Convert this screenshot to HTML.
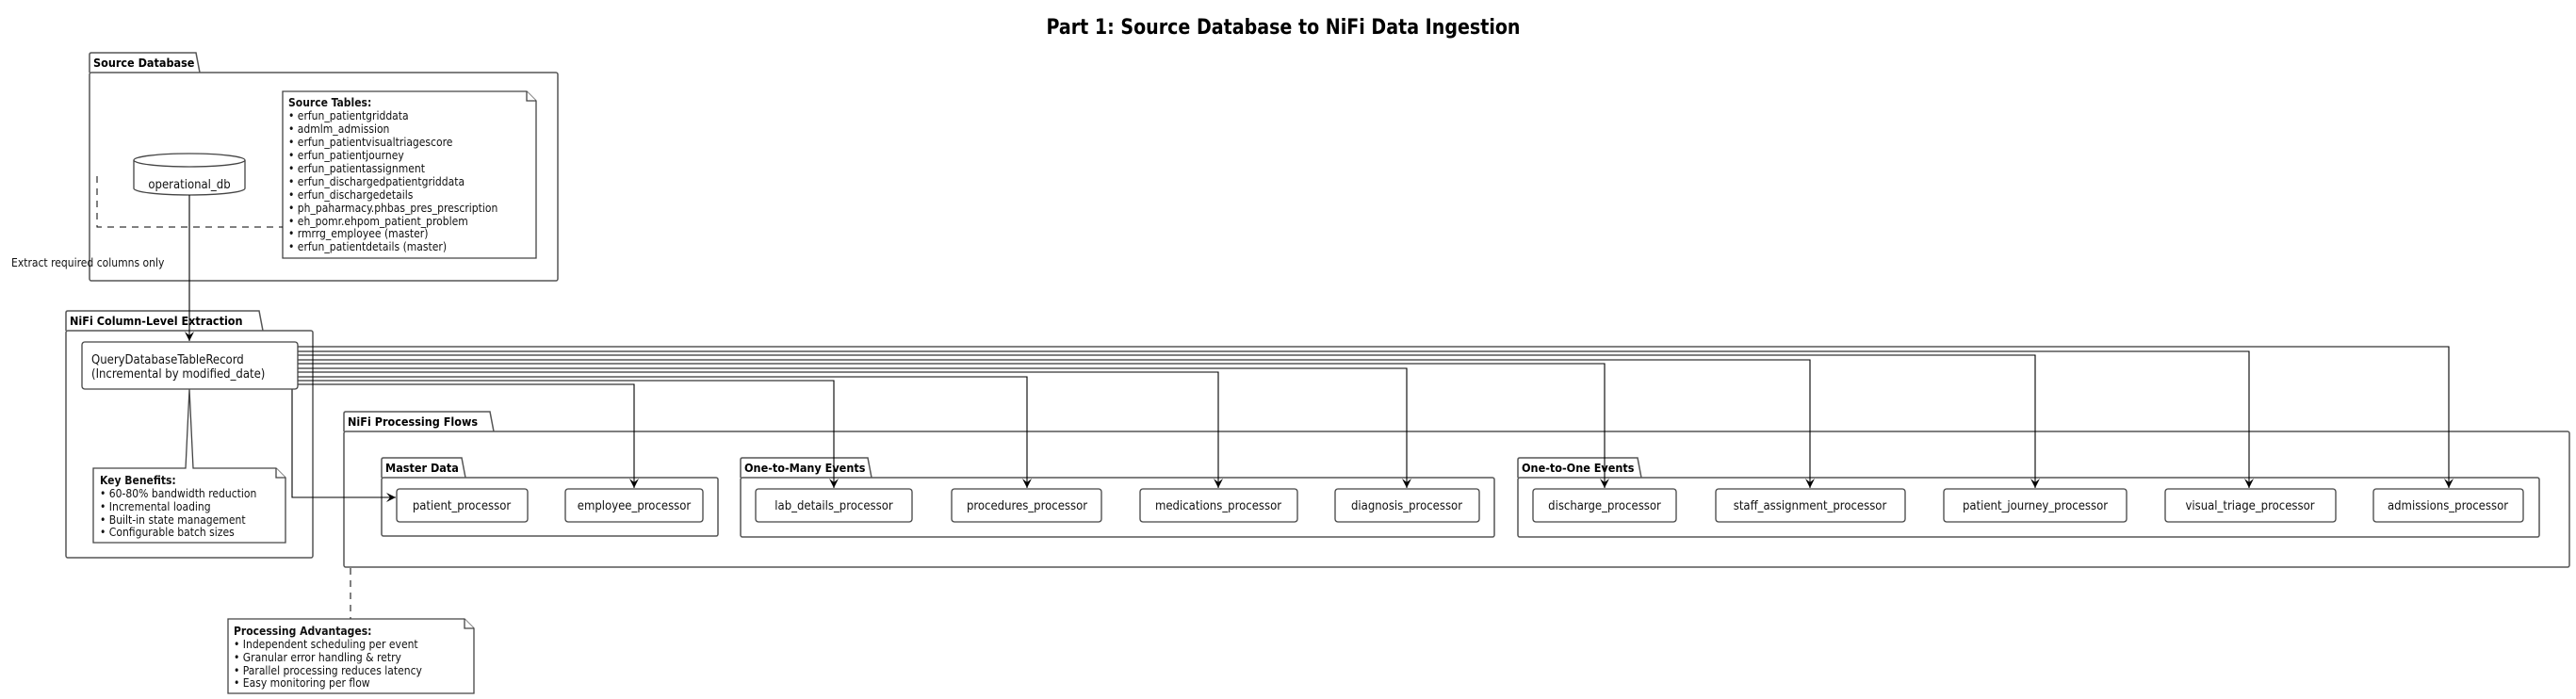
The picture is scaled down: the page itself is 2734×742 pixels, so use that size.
<!DOCTYPE html>
<html><head><meta charset="utf-8"><style>
html,body{margin:0;padding:0;background:#fff;}
svg{display:block;font-family:"DejaVu Sans Condensed","Liberation Sans",sans-serif;}
.pk{fill:#fff;stroke:#555;stroke-width:1.5;}
.nd{fill:#fff;stroke:#444;stroke-width:1.3;}
.ln{fill:none;stroke:#000;stroke-width:1.1;}
.t{font-size:13px;fill:#111;}
.tb{font-size:12.5px;font-weight:bold;fill:#000;}
.n{font-size:12px;fill:#111;}
</style></head><body>
<svg width="2734" height="742" viewBox="0 0 2734 742" xmlns="http://www.w3.org/2000/svg">
<defs><marker id="a" markerWidth="12" markerHeight="12" refX="10" refY="5" orient="auto" markerUnits="userSpaceOnUse"><path d="M0,0 L10,5 L0,10 L4,5 Z" fill="#000"/></marker></defs>
<text x="1362" y="36" text-anchor="middle" font-size="22" font-weight="bold" textLength="503" lengthAdjust="spacingAndGlyphs">Part 1: Source Database to NiFi Data Ingestion</text>

<!-- Source Database -->
<path class="pk" d="M95,77 L95,58 Q95,56 97,56 L208,56 L212,77"/>
<rect class="pk" x="95" y="77" width="497" height="221" rx="2"/>
<text class="tb" x="99" y="71">Source Database</text>
<path class="nd" d="M142,170 L142,200 A59,7 0 0 0 260,200 L260,170"/>
<ellipse class="nd" cx="201" cy="170" rx="59" ry="7"/>
<text class="t" x="201" y="200" text-anchor="middle">operational_db</text>
<path class="nd" d="M300,97 L559,97 L569,107 L569,274 L300,274 Z"/>
<path class="nd" d="M559,97 L559,107 L569,107"/>
<g class="n">
<text x="306" y="113" font-weight="bold">Source Tables:</text>
<text x="306" y="127">• erfun_patientgriddata</text>
<text x="306" y="141">• admlm_admission</text>
<text x="306" y="155">• erfun_patientvisualtriagescore</text>
<text x="306" y="169">• erfun_patientjourney</text>
<text x="306" y="183">• erfun_patientassignment</text>
<text x="306" y="197">• erfun_dischargedpatientgriddata</text>
<text x="306" y="211">• erfun_dischargedetails</text>
<text x="306" y="225">• ph_paharmacy.phbas_pres_prescription</text>
<text x="306" y="239">• eh_pomr.ehpom_patient_problem</text>
<text x="306" y="252">• rmrrg_employee (master)</text>
<text x="306" y="266">• erfun_patientdetails (master)</text>
</g>
<path d="M103,187 L103,241 L300,241" fill="none" stroke="#000" stroke-width="1" stroke-dasharray="7,6"/>

<text class="n" x="12" y="283">Extract required columns only</text>

<!-- NiFi Column-Level Extraction -->
<path class="pk" d="M70,351 L70,332 Q70,330 72,330 L275,330 L279,351"/>
<rect class="pk" x="70" y="351" width="262" height="241" rx="2"/>
<text class="tb" x="74" y="345">NiFi Column-Level Extraction</text>

<!-- NiFi Processing Flows -->
<path class="pk" d="M365,458 L365,439 Q365,437 367,437 L520,437 L524,458"/>
<rect class="pk" x="365" y="458" width="2362" height="144" rx="2"/>
<text class="tb" x="369" y="452">NiFi Processing Flows</text>

<!-- Master -->
<path class="pk" d="M405,507 L405,488 Q405,486 407,486 L490,486 L494,507"/>
<rect class="pk" x="405" y="507" width="357" height="62" rx="2"/>
<text class="tb" x="409" y="501">Master Data</text>
<!-- One to many -->
<path class="pk" d="M786,507 L786,488 Q786,486 788,486 L921,486 L925,507"/>
<rect class="pk" x="786" y="507" width="800" height="63" rx="2"/>
<text class="tb" x="790" y="501">One-to-Many Events</text>
<!-- One to one -->
<path class="pk" d="M1611,507 L1611,488 Q1611,486 1613,486 L1738,486 L1742,507"/>
<rect class="pk" x="1611" y="507" width="1084" height="63" rx="2"/>
<text class="tb" x="1615" y="501">One-to-One Events</text>

<!-- processors -->
<g class="t">
<rect class="nd" x="421" y="519" width="139" height="35" rx="3"/><text x="490" y="541" text-anchor="middle">patient_processor</text>
<rect class="nd" x="600" y="519" width="146" height="35" rx="3"/><text x="673" y="541" text-anchor="middle">employee_processor</text>
<rect class="nd" x="802" y="519" width="166" height="35" rx="3"/><text x="885" y="541" text-anchor="middle">lab_details_processor</text>
<rect class="nd" x="1010" y="519" width="159" height="35" rx="3"/><text x="1090" y="541" text-anchor="middle">procedures_processor</text>
<rect class="nd" x="1210" y="519" width="167" height="35" rx="3"/><text x="1293" y="541" text-anchor="middle">medications_processor</text>
<rect class="nd" x="1417" y="519" width="153" height="35" rx="3"/><text x="1493" y="541" text-anchor="middle">diagnosis_processor</text>
<rect class="nd" x="1627" y="519" width="152" height="35" rx="3"/><text x="1703" y="541" text-anchor="middle">discharge_processor</text>
<rect class="nd" x="1821" y="519" width="201" height="35" rx="3"/><text x="1921" y="541" text-anchor="middle">staff_assignment_processor</text>
<rect class="nd" x="2063" y="519" width="194" height="35" rx="3"/><text x="2160" y="541" text-anchor="middle">patient_journey_processor</text>
<rect class="nd" x="2298" y="519" width="181" height="35" rx="3"/><text x="2388" y="541" text-anchor="middle">visual_triage_processor</text>
<rect class="nd" x="2519" y="519" width="159" height="35" rx="3"/><text x="2598" y="541" text-anchor="middle">admissions_processor</text>
</g>

<!-- connectors -->
<path class="ln" d="M201,207 L201,362" marker-end="url(#a)"/>
<path class="ln" d="M316,368 L2599,368 L2599,518" marker-end="url(#a)"/>
<path class="ln" d="M316,373 L2387,373 L2387,518" marker-end="url(#a)"/>
<path class="ln" d="M316,377 L2160,377 L2160,518" marker-end="url(#a)"/>
<path class="ln" d="M316,382 L1921,382 L1921,518" marker-end="url(#a)"/>
<path class="ln" d="M316,386 L1703,386 L1703,518" marker-end="url(#a)"/>
<path class="ln" d="M316,391 L1493,391 L1493,518" marker-end="url(#a)"/>
<path class="ln" d="M316,395 L1293,395 L1293,518" marker-end="url(#a)"/>
<path class="ln" d="M316,400 L1090,400 L1090,518" marker-end="url(#a)"/>
<path class="ln" d="M316,404 L885,404 L885,518" marker-end="url(#a)"/>
<path class="ln" d="M316,408 L673,408 L673,518" marker-end="url(#a)"/>
<path class="ln" d="M310,413 L310,528 L420,528" marker-end="url(#a)"/>

<!-- Query node -->
<rect class="nd" x="87" y="363" width="229" height="50" rx="3"/>
<text class="t" x="97" y="386">QueryDatabaseTableRecord</text>
<text class="t" x="97" y="401">(Incremental by modified_date)</text>

<!-- Key benefits note -->
<path class="nd" d="M99,497 L197,497 L201,413 L205,497 L293,497 L303,507 L303,576 L99,576 Z"/>
<path class="nd" d="M293,497 L293,507 L303,507"/>
<g class="n">
<text x="106" y="514" font-weight="bold">Key Benefits:</text>
<text x="106" y="528">• 60-80% bandwidth reduction</text>
<text x="106" y="542">• Incremental loading</text>
<text x="106" y="556">• Built-in state management</text>
<text x="106" y="569">• Configurable batch sizes</text>
</g>

<!-- Processing advantages -->
<path d="M372,603 L372,657" fill="none" stroke="#000" stroke-width="1" stroke-dasharray="7,6"/>
<path class="nd" d="M242,657 L493,657 L503,667 L503,736 L242,736 Z"/>
<path class="nd" d="M493,657 L493,667 L503,667"/>
<g class="n">
<text x="248" y="674" font-weight="bold">Processing Advantages:</text>
<text x="248" y="688">• Independent scheduling per event</text>
<text x="248" y="702">• Granular error handling &amp; retry</text>
<text x="248" y="716">• Parallel processing reduces latency</text>
<text x="248" y="729">• Easy monitoring per flow</text>
</g>
</svg>
</body></html>
